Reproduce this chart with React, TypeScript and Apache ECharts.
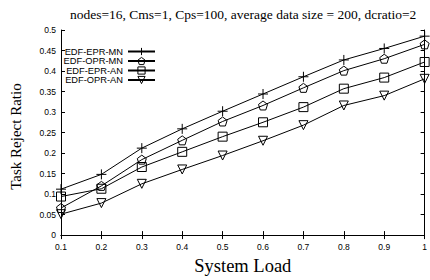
import React, { useEffect, useRef } from "react";
import * as echarts from "echarts";

const loads = [0.1, 0.2, 0.3, 0.4, 0.5, 0.6, 0.7, 0.8, 0.9, 1.0];
const seriesNames = ["EDF-EPR-MN", "EDF-OPR-MN", "EDF-EPR-AN", "EDF-OPR-AN"];
const eprMn = [0.112, 0.148, 0.212, 0.259, 0.302, 0.344, 0.386, 0.427, 0.455, 0.485];
const oprMn = [0.066, 0.12, 0.184, 0.231, 0.277, 0.316, 0.359, 0.401, 0.43, 0.465];
const eprAn = [0.094, 0.113, 0.166, 0.203, 0.24, 0.275, 0.312, 0.357, 0.384, 0.422];
const oprAn = [0.051, 0.078, 0.125, 0.16, 0.194, 0.23, 0.268, 0.316, 0.34, 0.381];
const allValues = [eprMn, oprMn, eprAn, oprAn];

const titleText = "nodes=16, Cms=1, Cps=100, average data size = 200, dcratio=2";
const xName = "System Load";
const yName = "Task Reject Ratio";

const symbols = [
  "path://M5 0V10M0 5H10",
  "path://M5 0L10 3.8L8.1 10L1.9 10L0 3.8Z",
  "rect",
  "path://M0 0L10 0L5 8.66Z",
];
const symbolSizes = [10, 9, 9, 9];

const SANS = "Liberation Sans";
const SERIF = "Liberation Serif";

export default function App() {
  const ref = useRef<HTMLDivElement>(null);
  useEffect(() => {
    document.body.style.margin = "0";
    if (!ref.current) return;
    const chart = echarts.init(ref.current, undefined, { renderer: "svg" });
    const legendTops = [47, 56.5, 66, 75.5];
    const hollow = { color: "transparent", borderColor: "#000", borderWidth: 1 };
    const axisCommon = {
      type: "value" as const,
      axisLine: { show: true, lineStyle: { color: "#000", width: 1 } },
      axisTick: { show: true, inside: true, length: 4, lineStyle: { color: "#000" } },
      splitLine: { show: false },
    };
    chart.setOption({
      animation: false,
      backgroundColor: "#fff",
      title: {
        text: titleText,
        left: 70,
        top: 7,
        padding: 0,
        textStyle: { fontFamily: SERIF, fontSize: 13.5, fontWeight: "normal", color: "#000" },
      },
      legend: seriesNames.map((n, i) => ({
        data: [{ name: n, itemStyle: hollow }],
        orient: "vertical",
        align: "right",
        right: 274,
        top: legendTops[i],
        padding: 0,
        itemWidth: 27,
        itemHeight: 9,
        itemStyle: hollow,
        textStyle: { fontFamily: SANS, fontSize: 9.3, color: "#000" },
        selectedMode: false,
      })),
      grid: { left: 61, right: 1, top: 30, bottom: 37 },
      xAxis: [
        {
          ...axisCommon,
          min: 0.1,
          max: 1,
          interval: 0.1,
          position: "bottom",
          name: xName,
          nameLocation: "middle",
          nameGap: 15,
          nameTextStyle: { fontFamily: SERIF, fontSize: 18.5, color: "#000" },
          axisLabel: { fontFamily: SANS, fontSize: 8.5, color: "#000", margin: 7 },
        },
        {
          ...axisCommon,
          min: 0.1,
          max: 1,
          interval: 0.1,
          position: "top",
          axisLabel: { show: false },
        },
      ],
      yAxis: [
        {
          ...axisCommon,
          min: 0,
          max: 0.5,
          interval: 0.05,
          position: "left",
          name: yName,
          nameLocation: "middle",
          nameGap: 38,
          nameTextStyle: { fontFamily: SERIF, fontSize: 15, color: "#000", padding: [0, 0, 0, -8] },
          axisLabel: { fontFamily: SANS, fontSize: 8.5, color: "#000", margin: 5 },
        },
        {
          ...axisCommon,
          min: 0,
          max: 0.5,
          interval: 0.05,
          position: "right",
          axisLabel: { show: false },
        },
      ],
      series: seriesNames.map((n, i) => ({
        name: n,
        type: "line",
        xAxisIndex: 0,
        yAxisIndex: 0,
        data: loads.map((x, j) => [x, allValues[i][j]]),
        symbol: symbols[i],
        symbolSize: symbolSizes[i],
        showAllSymbol: true,
        lineStyle: { color: "#000", width: 1 },
        itemStyle: hollow,
        emphasis: { disabled: true },
      })),
    });
    return () => chart.dispose();
  }, []);
  return <div ref={ref} style={{ width: 430, height: 280 }} />;
}
